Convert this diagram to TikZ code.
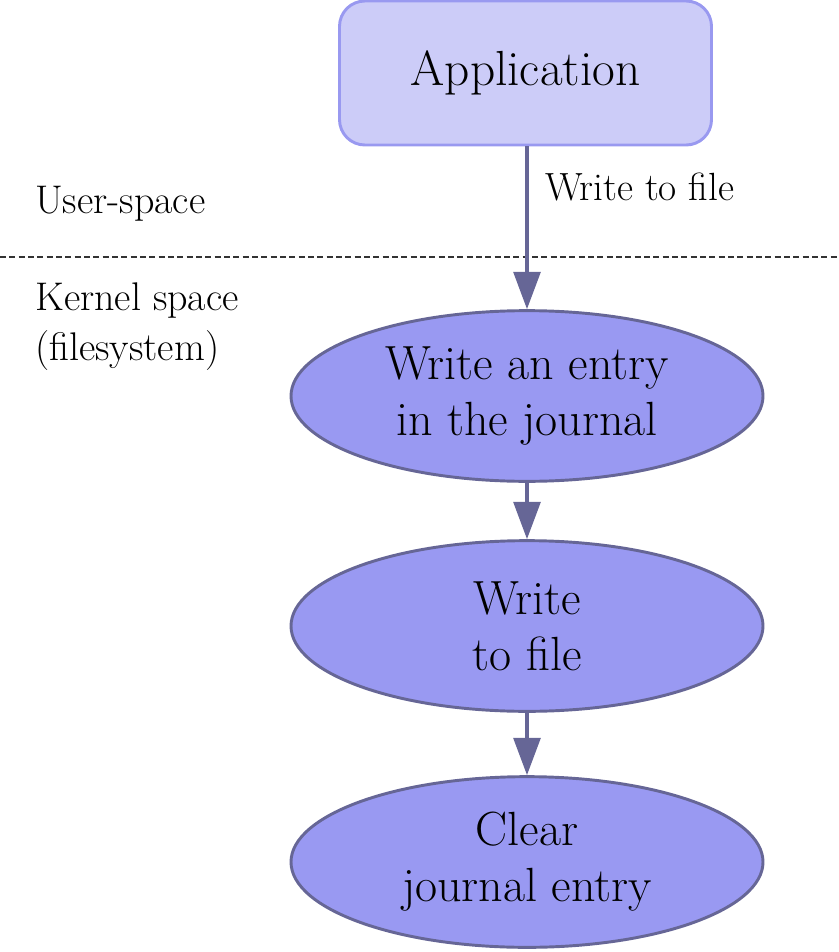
\documentclass[tikz,border=0pt]{standalone}
\usepackage{fontspec}
\usetikzlibrary{arrows.meta,shapes.geometric}
\definecolor{appfill}{RGB}{204,204,248}
\definecolor{appline}{RGB}{153,153,240}
\definecolor{stepfill}{RGB}{153,153,242}
\definecolor{stepline}{RGB}{102,102,150}
\tikzset{
	appbox/.style={draw=appline, fill=appfill, line width=2.2pt, rounded corners=19pt, minimum width=279pt, minimum height=108pt, font=\fontsize{37}{42}\selectfont},
	stepnode/.style={ellipse, draw=stepline, fill=stepfill, line width=2.2pt, minimum width=354pt, minimum height=128pt, align=center, inner sep=0pt, font=\fontsize{36}{42}\selectfont},
	flow/.style={draw=stepline, line width=3pt, -{Triangle[length=28pt,width=20pt]}},
	spacelabel/.style={anchor=west, inner sep=0pt, align=left, font=\fontsize{30}{37.5}\selectfont},
}

\begin{document}
\begin{tikzpicture}[x=0.75pt, y=-0.75pt]
		%%%%% START %%%%%
		
		\useasboundingbox (0, 0) rectangle (838, 952);
		
		\draw[line width=1.1pt, color=black!80, dash pattern=on 4.5pt off 2.5pt] (0, 257) -- (838, 257);
		
		\node[spacelabel] (user) at (35, 204) {User-space};
		\node[spacelabel] (kernel) at (35, 327) {Kernel space\\(filesystem)};
		
		\node[appbox] (app) at (525.5, 73) {Application};
		\node[stepnode] (journal) at (527, 396) {Write an entry\\in the journal};
		\node[stepnode] (write) at (527, 626) {Write\\to file};
		\node[stepnode] (clear) at (527, 862) {Clear\\journal entry};
		
		\draw[flow] (app.south -| journal.north) -- node[pos=0.25, anchor=west, inner sep=0pt, xshift=12pt, font=\fontsize{29.5}{35}\selectfont] (wlabel) {Write to file} (journal.north);
		\draw[flow] (journal) -- (write);
		\draw[flow] (write) -- (clear);
		
		%%%%% END %%%%%
	\end{tikzpicture}
\end{document}
